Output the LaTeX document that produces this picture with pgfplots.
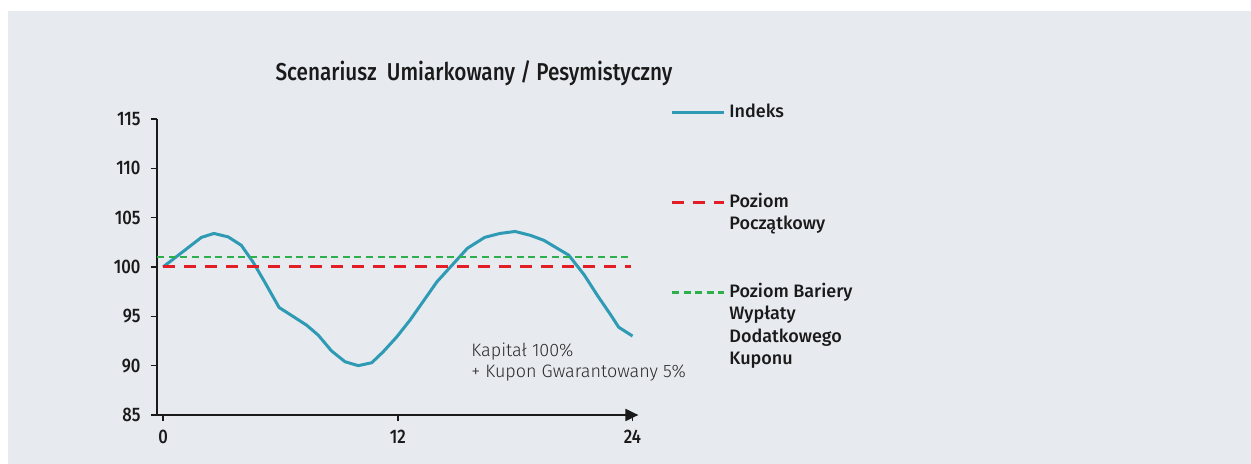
\documentclass[border=0pt]{standalone}
\usepackage{fontspec}
\setmainfont{Fira Sans}
\newfontfamily\condfont{Fira Sans Medium}[FakeStretch=0.85]
\newfontfamily\medfont{Fira Sans Medium}
\newfontfamily\lightfont{Fira Sans Light}
\usepackage{pgfplots}
\pgfplotsset{compat=1.18}
\usetikzlibrary{arrows.meta}
\definecolor{bgc}{HTML}{E7EAEF}
\definecolor{idx}{HTML}{2E9AB4}
\definecolor{red1}{HTML}{E31E24}
\definecolor{grn}{HTML}{2DB04B}
\definecolor{txt}{HTML}{1A1A1A}
\definecolor{anno}{HTML}{2A2A2A}
\begin{document}
\begin{tikzpicture}
\useasboundingbox (0pt,0pt) rectangle (625.5pt,232pt);
\fill[white] (0pt,0pt) rectangle (625.5pt,232pt);
\fill[bgc] (4pt,0pt) rectangle (625.5pt,226.5pt);
\begin{axis}[
  at={(78.3pt,24.5pt)}, anchor=south west,
  scale only axis, width=240.9pt, height=148pt,
  xmin=-0.33, xmax=24.3, ymin=85, ymax=115,
  axis lines=left,
  axis line style={line width=1pt, txt},
  x axis line style={-{Triangle[length=6.5pt,width=6pt]}},
  y axis line style={-},
  xtick={0,12,24}, ytick={85,90,95,100,105,110,115},
  tick style={txt, line width=0.8pt},
  tick align=outside, major tick length=3pt,
  /pgf/number format/assume math mode=true,
  ticklabel style={font=\condfont\fontsize{9.8}{10}\selectfont, text=txt},
  yticklabel style={xshift=-1.5pt},
  xticklabel style={yshift=-1pt},
  clip=false,
  legend style={at={(1.0656,1.0473)}, anchor=north west, draw=none, fill=none,
    inner sep=0pt, column sep=2pt, row sep=39pt,
    font=\medfont\fontsize{9}{11.2}\selectfont,
    cells={anchor=base west},
    nodes={text height=6pt, text depth=0pt, inner sep=0pt, text=txt}},
  legend image code/.code={\draw[#1] (0pt,2.5pt) -- (26pt,2.5pt);},
]
\addplot[idx, line width=1.5pt] coordinates {
(0,100.0) (1.96,103.0) (2.6,103.4) (3.33,103.05) (4.0,102.2) (4.6,100.5)
(5.19,98.5) (5.93,95.9) (6.56,95.1) (7.34,94.1) (7.93,93.1) (8.61,91.5)
(9.3,90.4) (9.98,90.0) (10.67,90.3) (11.25,91.4) (11.94,92.9) (12.62,94.6)
(13.4,96.8) (14.0,98.5) (14.78,100.2) (15.56,101.9) (16.44,103.0) (17.22,103.4)
(18.0,103.6) (18.79,103.2) (19.47,102.7) (20.06,102.0) (20.74,101.2) (21.53,99.2)
(22.21,97.1) (22.9,95.1) (23.29,93.9) (24.0,93.0)};
\addlegendentry{\parbox[t]{90pt}{Indeks}}
\addplot[red1, line width=1.5pt, dash pattern=on 6pt off 4.5pt] coordinates {(0,100) (23.9,100)};
\addlegendentry{\parbox[t]{90pt}{Poziom\\Początkowy}}
\addplot[grn, line width=1.2pt, dash pattern=on 3.5pt off 2.3pt] coordinates {(-0.3,101) (24,101)};
\addlegendentry{\parbox[t]{90pt}{Poziom Bariery\\Wypłaty\\Dodatkowego\\Kuponu}}
\end{axis}
\node[text=txt, font=\condfont\fontsize{12.2}{14}\selectfont] at (237pt,195.5pt) {Scenariusz\ \ Umiarkowany / Pesymistyczny};
\node[anchor=west, align=left, text=anno, font=\lightfont\fontsize{9}{10.5}\selectfont, inner sep=0pt] at (235.5pt,50.75pt) {Kapitał 100\%\\+ Kupon Gwarantowany 5\%};
\end{tikzpicture}
\end{document}
